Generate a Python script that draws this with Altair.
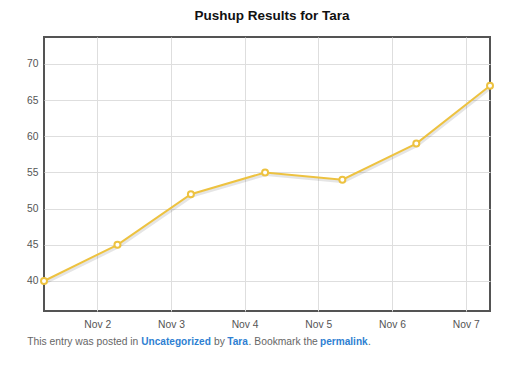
import altair as alt
import pandas as pd

# ---- data ----
times = [
    "2012-11-01T06:40:00",
    "2012-11-02T06:35:00",
    "2012-11-03T06:30:00",
    "2012-11-04T06:40:00",
    "2012-11-05T07:50:00",
    "2012-11-06T07:55:00",
    "2012-11-07T07:55:00",
]
pushups = [40, 45, 52, 55, 54, 59, 67]
tick_days = [2, 3, 4, 5, 6, 7]
y_ticks = [40, 45, 50, 55, 60, 65, 70]
title_text = "Pushup Results for Tara"
footer_parts = ["This entry was posted in", "Uncategorized", "by", "Tara",
                ". Bookmark the", "permalink", "."]

df = pd.DataFrame({"time": times, "pushups": pushups})

FONT = "Liberation Sans"
GOLD = "#edc240"
GRAY = "#545454"
BLUE = "#2e7fd2"

x_scale = alt.Scale(
    domain=[alt.DateTime(year=2012, month=11, date=1, hours=6, minutes=40),
            alt.DateTime(year=2012, month=11, date=7, hours=7, minutes=55)],
    nice=False,
)
y_scale = alt.Scale(domain=[35.85, 73.73], nice=False, zero=False)

x_enc = alt.X(
    "time:T", scale=x_scale, title=None,
    axis=alt.Axis(
        values=[alt.DateTime(year=2012, month=11, date=d) for d in tick_days],
        format="%b %-d", labelFont=FONT, labelFontSize=10.3, labelColor=GRAY,
        tickSize=0, domain=False, labelPadding=8, gridColor="#dedede",
        gridWidth=1, labelFlush=False,
    ),
)
y_enc = alt.Y(
    "pushups:Q", scale=y_scale, title=None,
    axis=alt.Axis(
        values=y_ticks, labelFont=FONT, labelFontSize=10.3, labelColor=GRAY,
        tickSize=0, domain=False, labelPadding=6, gridColor="#dedede",
        gridWidth=1,
    ),
)

base = alt.Chart(df)

shadow = base.mark_line(
    stroke="rgba(0,0,0,0.10)", strokeWidth=3, yOffset=2, xOffset=1
).encode(x=x_enc, y=y_enc)

line = base.mark_line(color=GOLD, strokeWidth=2).encode(x="time:T", y="pushups:Q")

points = base.mark_point(
    shape="circle", filled=True, fill="white", stroke=GOLD, strokeWidth=2,
    size=36, opacity=1,
).encode(x="time:T", y="pushups:Q")

title = alt.Chart(pd.DataFrame({"t": [title_text]})).mark_text(
    font=FONT, fontSize=13.5, fontWeight="bold", color="#111",
    align="center", baseline="alphabetic",
).encode(text="t:N", x=alt.value(228), y=alt.value(-17.5))

footer_x = [-16.7, 97.3, 170, 183.3, 204.6, 276, 323.9]
footer_layers = []
for txt, fx in zip(footer_parts, footer_x):
    is_link = txt in ("Uncategorized", "Tara", "permalink")
    footer_layers.append(
        alt.Chart(pd.DataFrame({"t": [txt]})).mark_text(
            font=FONT, fontSize=10.1 if is_link else 10.3,
            fontWeight="bold" if is_link else "normal",
            color=BLUE if is_link else "#666666",
            align="left", baseline="middle",
        ).encode(text="t:N", x=alt.value(fx), y=alt.value(305.4))
    )

chart = alt.layer(shadow, line, points, title, *footer_layers).properties(
    width=446, height=274,
    autosize=alt.AutoSizeParams(type="none"),
    padding={"left": 36, "top": 29, "right": 17, "bottom": 47},
).configure(
    background="white",
    view=alt.ViewConfig(stroke=GRAY, strokeWidth=2),
)

chart.save("out.html", embed_options={"renderer": "svg", "actions": False})
